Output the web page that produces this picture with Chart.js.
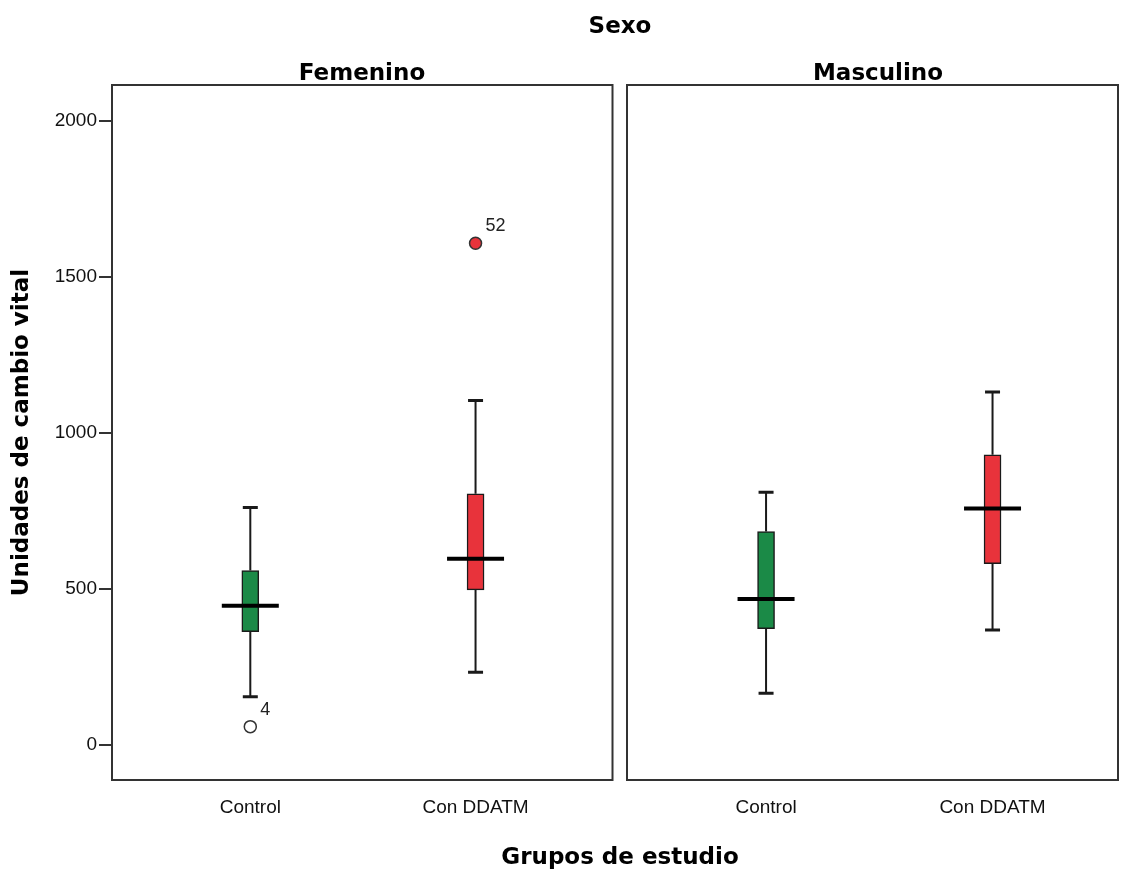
<!DOCTYPE html>
<html>
<head>
<meta charset="utf-8">
<script src="https://cdn.jsdelivr.net/npm/chart.js@4/dist/chart.umd.min.js"></script>
<style>
  html, body { margin:0; padding:0; background:#fff; }
  #wrap { position:relative; width:1128px; height:872px; overflow:hidden; background:#fff; }
  canvas { position:absolute; top:0; }
  .t { position:absolute; transform:translate(-50%,-50%); font-family:"DejaVu Sans", sans-serif; font-weight:bold; font-size:23px; line-height:1; color:#000; white-space:nowrap; }
</style>
</head>
<body>
<div id="wrap">
  <canvas id="c1" width="620" height="872" style="left:0px"></canvas>
  <canvas id="c2" width="508" height="872" style="left:620px"></canvas>
  <div class="t" style="left:620px; top:25px;">Sexo</div>
  <div class="t" id="p1" style="left:362px; top:72px;"></div>
  <div class="t" id="p2" style="left:878px; top:72px;"></div>
  <div class="t" style="left:620px; top:856px;">Grupos de estudio</div>
</div>
<script>
// ---- data ----
const groups = ['Control', 'Con DDATM'];
const sexes = ['Femenino', 'Masculino'];
const yTicks = [0, 500, 1000, 1500, 2000];
const yTitle = 'Unidades de cambio vital';

const femMin = [155, 233];
const femQ1  = [363, 497];
const femMed = [446, 597];
const femQ3  = [559, 805];
const femMax = [761, 1104];

const mascMin = [166, 369];
const mascQ1  = [373, 581];
const mascMed = [468, 758];
const mascQ3  = [684, 930];
const mascMax = [810, 1131];

const femOutlierGroup = [0, 1];
const femOutlierValue = [59, 1608];
const femOutlierId    = ['4', '52'];
const mascOutlierGroup = [];
const mascOutlierValue = [];
const mascOutlierId    = [];

// ---- styles ----
const boxColors = ['#1b8a47', '#e8333b'];
const outlierFill = ['#ffffff', '#e8333b'];
const ink = '#1a1a1a';
const tickFont = { family: '"Liberation Sans", Arial, sans-serif', size: 19 };

document.getElementById('p1').textContent = sexes[0];
document.getElementById('p2').textContent = sexes[1];

const boxPlugin = {
  id: 'boxExtras',
  afterDatasetsDraw(chart, args, opts) {
    const ctx = chart.ctx;
    const xs = chart.scales.x, ys = chart.scales.y;
    const d = opts.stats;
    ctx.save();
    ctx.strokeStyle = ink;
    for (let i = 0; i < d.min.length; i++) {
      const x = xs.getPixelForValue(i);
      const yMin = ys.getPixelForValue(d.min[i]);
      const yQ1 = ys.getPixelForValue(d.q1[i]);
      const yQ3 = ys.getPixelForValue(d.q3[i]);
      const yMax = ys.getPixelForValue(d.max[i]);
      const yMed = ys.getPixelForValue(d.med[i]);
      ctx.lineWidth = 2;
      ctx.beginPath();
      ctx.moveTo(x, yQ3); ctx.lineTo(x, yMax);
      ctx.moveTo(x, yQ1); ctx.lineTo(x, yMin);
      ctx.stroke();
      ctx.lineWidth = 3;
      ctx.beginPath();
      ctx.moveTo(x - 7.5, yMax); ctx.lineTo(x + 7.5, yMax);
      ctx.moveTo(x - 7.5, yMin); ctx.lineTo(x + 7.5, yMin);
      ctx.stroke();
      ctx.strokeStyle = '#000';
      ctx.lineWidth = 4;
      ctx.beginPath();
      ctx.moveTo(x - 28.5, yMed); ctx.lineTo(x + 28.5, yMed);
      ctx.stroke();
      ctx.strokeStyle = ink;
    }
    // outlier labels
    ctx.fillStyle = '#222';
    ctx.font = '18px "Liberation Sans", Arial, sans-serif';
    ctx.textAlign = 'left';
    ctx.textBaseline = 'middle';
    for (let k = 0; k < d.oGroup.length; k++) {
      const x = xs.getPixelForValue(d.oGroup[k]);
      const y = ys.getPixelForValue(d.oValue[k]);
      ctx.fillText(d.oId[k], x + 10, y - 17);
    }
    ctx.restore();
  },
  afterDraw(chart) {
    const ctx = chart.ctx, a = chart.chartArea;
    ctx.save();
    ctx.strokeStyle = '#333';
    ctx.lineWidth = 2;
    ctx.strokeRect(a.left, a.top, a.right - a.left, a.bottom - a.top);
    ctx.restore();
  }
};

function makeChart(id, st, showY, padL, padR, xMin, xMax) {
  const boxData = st.q1.map((q, i) => ({ x: i, y: [q, st.q3[i]] }));
  const outData = st.oGroup.map((g, k) => ({ x: g, y: st.oValue[k] }));
  return new Chart(document.getElementById(id), {
    type: 'bar',
    data: {
      datasets: [
        {
          type: 'bar',
          data: boxData,
          backgroundColor: boxColors,
          borderColor: ink,
          borderWidth: 1.5,
          borderSkipped: false,
          barThickness: 17
        },
        {
          type: 'line',
          data: outData,
          showLine: false,
          pointStyle: 'circle',
          pointRadius: 6,
          pointBackgroundColor: st.oGroup.map((g) => outlierFill[g]),
          pointBorderColor: '#333',
          pointBorderWidth: 1.5
        }
      ]
    },
    options: {
      responsive: false,
      animation: false,
      events: [],
      layout: { padding: { left: padL, right: padR, top: 85, bottom: 0 } },
      plugins: { legend: { display: false }, tooltip: { enabled: false }, title: { display: false },
        boxExtras: { stats: st } },
      scales: {
        x: {
          type: 'linear',
          offset: false,
          min: xMin, max: xMax,
          afterBuildTicks: (s) => { s.ticks = groups.map((g, i) => ({ value: i })); },
          afterFit: (s) => { s.height = 92; },
          ticks: { callback: (v) => groups[v], color: '#111', font: tickFont, padding: 16, maxRotation: 0, autoSkip: false },
          grid: { display: false, drawTicks: false, offset: false },
          border: { display: false }
        },
        y: {
          type: 'linear',
          display: showY,
          min: -112, max: 2115,
          afterBuildTicks: (s) => { s.ticks = yTicks.map((v) => ({ value: v })); },
          afterFit: (s) => { s.width = showY ? 112 : 0; },
          ticks: { color: '#111', font: tickFont, padding: 2, callback: (v) => String(v) },
          grid: { drawOnChartArea: false, drawTicks: true, tickLength: 13, tickColor: '#333', lineWidth: 2 },
          border: { display: false },
          title: { display: true, text: yTitle, color: '#000',
            font: { family: '"DejaVu Sans", sans-serif', weight: 'bold', size: 23 }, padding: { top: 8, bottom: 0 } }
        }
      }
    },
    plugins: [boxPlugin]
  });
}

makeChart('c1', { min: femMin, q1: femQ1, med: femMed, q3: femQ3, max: femMax,
  oGroup: femOutlierGroup, oValue: femOutlierValue, oId: femOutlierId }, true, 0, 7, -0.614, 1.608);
makeChart('c2', { min: mascMin, q1: mascQ1, med: mascMed, q3: mascQ3, max: mascMax,
  oGroup: mascOutlierGroup, oValue: mascOutlierValue, oId: mascOutlierId }, false, 7, 10, -0.614, 1.554);
</script>
</body>
</html>
